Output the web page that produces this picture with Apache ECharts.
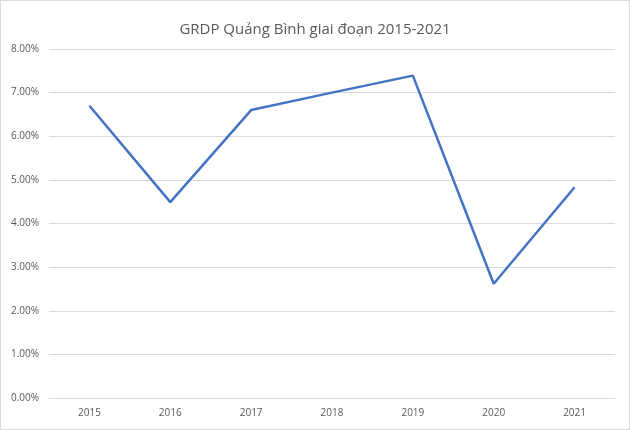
<!DOCTYPE html>
<html><head><meta charset="utf-8">
<script src="https://cdn.jsdelivr.net/npm/echarts@6/dist/echarts.min.js"></script>
<style>html,body{margin:0;padding:0;background:#fff}#c{width:630px;height:430px;box-sizing:border-box;border:1px solid #d9d9d9}</style>
</head><body><div id="c"></div>
<script>
const categories = ['2015','2016','2017','2018','2019','2020','2021'];
const grdpValues = [6.70, 4.49, 6.60, 7.00, 7.39, 2.62, 4.83];
const chart = echarts.init(document.getElementById('c'));
chart.setOption({
  animation:false,
  title:{text:'GRDP Quảng Bình giai đoạn 2015-2021',left:'center',top:16,
    textStyle:{fontFamily:'Open Sans',fontSize:15,fontWeight:'normal',color:'#595959'}},
  grid:{left:48,right:14,top:48,bottom:31},
  xAxis:{type:'category',data:categories,boundaryGap:true,
    axisLine:{lineStyle:{color:'#d9d9d9',width:1}},axisTick:{show:false},
    axisLabel:{color:'#595959',fontSize:10,fontFamily:'Open Sans',margin:10}},
  yAxis:{type:'value',min:0,max:8,interval:1,
    axisLabel:{formatter:v=>v.toFixed(2)+'%',color:'#595959',fontSize:10,fontFamily:'Open Sans',margin:10},
    splitLine:{lineStyle:{color:'#d9d9d9'}},axisLine:{show:false},axisTick:{show:false}},
  series:[{type:'line',data:grdpValues,symbol:'none',lineStyle:{color:'#4472C4',width:2.5}}]
});
</script></body></html>
